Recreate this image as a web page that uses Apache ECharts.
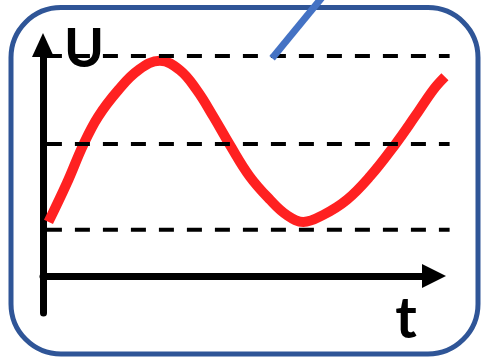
<!DOCTYPE html>
<html>
<head>
<meta charset="utf-8">
<script src="https://cdn.jsdelivr.net/npm/echarts@6/dist/echarts.min.js"></script>
<style>
  html, body { margin: 0; padding: 0; background: #fff; }
  #chart { width: 483px; height: 358px; }
</style>
</head>
<body>
<div id="chart"></div>
<script>
// 曲线 U(t) 读图数据
var tVals = [0.14, 0.61, 1.03, 1.41, 1.93, 2.44, 2.99, 3.50, 3.93, 4.36, 4.78, 5.29, 5.81, 6.23, 6.66, 7.17, 7.77, 8.36, 9.00, 9.51, 9.98, 10.28];
var uVals = [1.23, 2.11, 2.98, 3.62, 4.23, 4.68, 4.89, 4.68, 4.23, 3.62, 2.98, 2.26, 1.73, 1.39, 1.23, 1.39, 1.73, 2.26, 2.98, 3.62, 4.23, 4.53];
// 虚线水平
var levels = [1.05, 3, 5];
var levelRange = [0.1, 10.4];
// 蓝色指示线
var pointerT = [5.86, 7.21];
var pointerU = [4.95, 6.41];
var labels = {y: 'U', x: 't'};

var curve = [];
for (let i = 0; i < tVals.length; i++) {
    curve.push([tVals[i], uVals[i]]);
}

var series = [{
    type: 'line',
    data: curve,
    smooth: 0.4,
    symbol: 'none',
    clip: false,
    z: 3,
    lineStyle: {color: '#ff2121', width: 10}
}];
levels.forEach(function (v) {
    series.push({
        type: 'line',
        data: [[levelRange[0], v], [levelRange[1], v]],
        symbol: 'none',
        clip: false,
        z: 4,
        lineStyle: {color: '#000', width: 4, type: [15, 13]}
    });
});
series.push({
    type: 'line',
    data: [[pointerT[0], pointerU[0]], [pointerT[1], pointerU[1]]],
    symbol: 'none',
    clip: false,
    z: 6,
    lineStyle: {color: '#4472c4', width: 7}
});

var hidden = {show: false};
var option = {
    animation: false,
    backgroundColor: '#fff',
    // grid 0: 绘图区（到虚线末端）；grid 1: 只画带箭头的横轴
    grid: [
        {left: 43, right: 33, top: 45, bottom: 45, outerBoundsMode: 'none'},
        {left: 43, right: 49, top: 45, bottom: 45, outerBoundsMode: 'none'}
    ],
    xAxis: [{
        type: 'value', gridIndex: 0, min: 0, max: 10.41,
        axisLine: hidden, axisTick: hidden, axisLabel: hidden, splitLine: hidden
    }, {
        type: 'value', gridIndex: 1, min: 0, max: 10,
        axisLine: {onZero: true, symbol: ['none', 'triangle'], symbolSize: [24, 24],
            lineStyle: {color: '#000', width: 7}},
        axisTick: hidden, axisLabel: hidden, splitLine: hidden
    }],
    yAxis: [{
        type: 'value', gridIndex: 0, min: -0.84, max: 5.25,
        axisLine: {onZero: true, symbol: ['none', 'triangle'], symbolSize: [22, 24],
            lineStyle: {color: '#000', width: 7}},
        axisTick: hidden, axisLabel: hidden, splitLine: hidden
    }, {
        type: 'value', gridIndex: 1, min: -0.84, max: 5.25,
        axisLine: hidden, axisTick: hidden, axisLabel: hidden, splitLine: hidden
    }],
    graphic: [
        {
            type: 'rect', z: 0, silent: true,
            shape: {x: 11, y: 7.5, width: 467, height: 346.5, r: 50},
            style: {fill: 'none', stroke: '#2f5597', lineWidth: 5}
        },
        {
            type: 'text', z: 5, x: 84, y: 50,
            style: {text: labels.y, font: 'bold 54px Lato', fill: '#000', align: 'center', verticalAlign: 'middle'}
        },
        {
            type: 'text', z: 5, x: 406, y: 319,
            style: {text: labels.x, font: 'bold 58px Lato', fill: '#000', align: 'center', verticalAlign: 'middle'}
        }
    ],
    series: series
};
var myChart = echarts.init(document.getElementById('chart'));
myChart.setOption(option);
</script>
</body>
</html>
